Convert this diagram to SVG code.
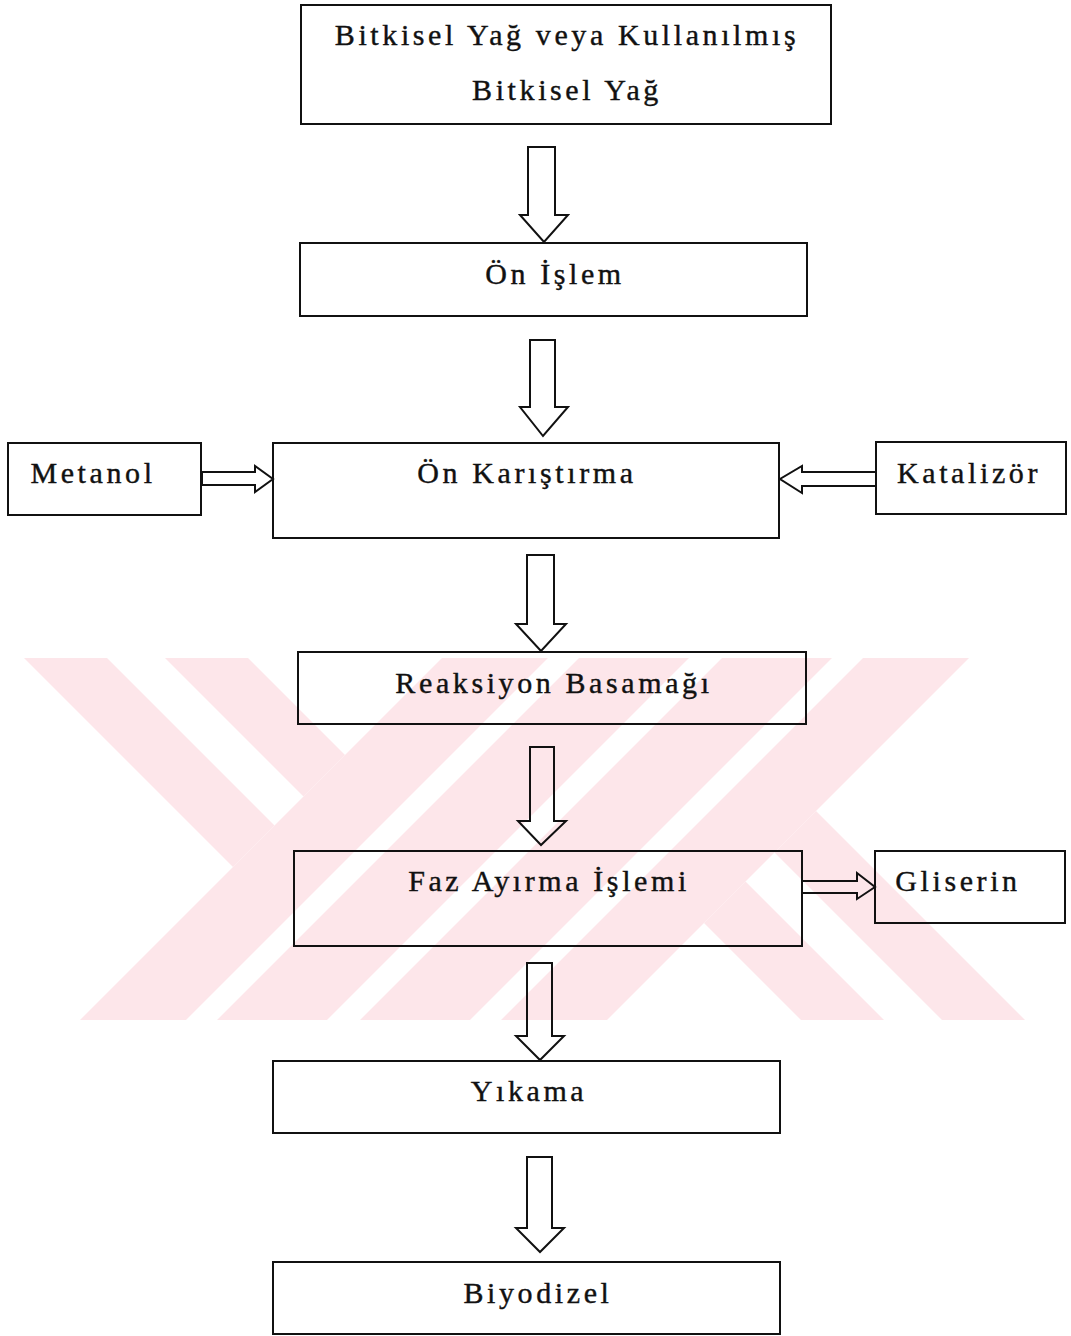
<svg xmlns="http://www.w3.org/2000/svg" width="1071" height="1336" viewBox="0 0 1071 1336">
<style>
.box{fill:none;stroke:#111;stroke-width:2}
.arr{fill:none;stroke:#111;stroke-width:2;stroke-linejoin:miter}
.t{font-family:"Liberation Serif","Times New Roman",serif;font-size:30px;letter-spacing:3.6px;fill:#111;stroke:#111;stroke-width:0.4;text-anchor:middle}
.wm{fill:#fde6ea;stroke:none}
.wg{fill:#ffffff;stroke:none}
</style>
<rect width="1071" height="1336" fill="#ffffff"/>
<g id="watermark">
<polygon class="wm" points="24,658 107,658 274.5,825.5 233,867"/>
<polygon class="wm" points="165,658 248,658 345,755 303.5,796.5"/>
<polygon class="wm" points="442,658 969,658 607,1020 80,1020"/>
<polygon class="wm" points="1025,1020 942,1020 774.5,852.5 816,811"/>
<polygon class="wm" points="884,1020 801,1020 704,923 745.5,881.5"/>
<polygon class="wg" points="548,658 579,658 217,1020 186,1020"/>
<polygon class="wg" points="689,658 722,658 360,1020 327,1020"/>
<polygon class="wg" points="832,658 863,658 501,1020 470,1020"/>
</g>
<g id="connectors">
<polygon class="arr" points="528,147 555,147 555,215 568,215 544,242 520,215 528,215"/>
<polygon class="arr" points="530,340 555,340 555,407 568,407 543,436 520,407 530,407"/>
<polygon class="arr" points="527,555 554,555 554,624 566,624 541,651 516,624 527,624"/>
<polygon class="arr" points="530,747 554,747 554,821 566,821 541,845 518,821 530,821"/>
<polygon class="arr" points="527,963 552,963 552,1036 564,1036 540,1060 516,1036 527,1036"/>
<polygon class="arr" points="527,1157 552,1157 552,1228 564,1228 540,1252 516,1228 527,1228"/>
<polygon class="arr" points="202,472 255,472 255,466 273,479 255,492 255,485 202,485"/>
<polygon class="arr" points="876,472 802,472 802,466 780,479 802,493 802,486 876,486"/>
<polygon class="arr" points="802,881 857,881 857,873 875,887 857,899 857,893 802,893"/>
</g>
<g id="node-yag">
<rect class="box" x="301" y="5" width="530" height="119"/>
<text class="t" x="567" y="45">Bitkisel Yağ veya Kullanılmış</text>
<text class="t" x="567" y="100">Bitkisel Yağ</text>
</g>
<g id="node-onislem">
<rect class="box" x="300" y="243" width="507" height="73"/>
<text class="t" x="555" y="284">Ön İşlem</text>
</g>
<g id="node-metanol">
<rect class="box" x="8" y="443" width="193" height="72"/>
<text class="t" x="93" y="483">Metanol</text>
</g>
<g id="node-onkaristirma">
<rect class="box" x="273" y="443" width="506" height="95"/>
<text class="t" x="527" y="483">Ön Karıştırma</text>
</g>
<g id="node-katalizor">
<rect class="box" x="876" y="442" width="190" height="72"/>
<text class="t" x="969" y="483">Katalizör</text>
</g>
<g id="node-reaksiyon">
<rect class="box" x="298" y="652" width="508" height="72"/>
<text class="t" x="554" y="693">Reaksiyon Basamağı</text>
</g>
<g id="node-faz">
<rect class="box" x="294" y="851" width="508" height="95"/>
<text class="t" x="549" y="891">Faz Ayırma İşlemi</text>
</g>
<g id="node-gliserin">
<rect class="box" x="875" y="851" width="190" height="72"/>
<text class="t" x="958" y="891">Gliserin</text>
</g>
<g id="node-yikama">
<rect class="box" x="273" y="1061" width="507" height="72"/>
<text class="t" x="529" y="1101">Yıkama</text>
</g>
<g id="node-biyodizel">
<rect class="box" x="273" y="1262" width="507" height="72"/>
<text class="t" x="538" y="1303">Biyodizel</text>
</g>
</svg>
